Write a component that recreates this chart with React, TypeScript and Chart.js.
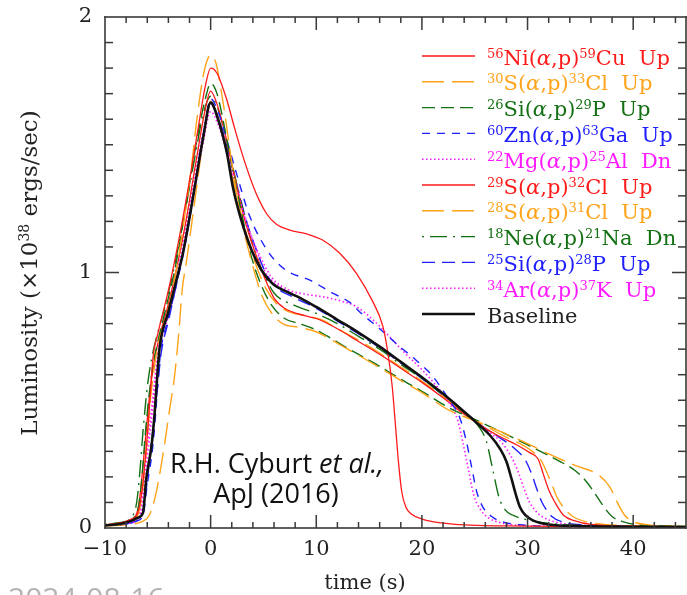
import React, { useEffect, useRef } from "react";
import { Chart, registerables } from "chart.js";

Chart.register(...registerables);

// ---------- axis ranges & tick labels ----------
const X_MIN = -10;
const X_MAX = 45;
const Y_MIN = 0;
const Y_MAX = 2;
const xTickValues = [-10, 0, 10, 20, 30, 40];
const yTickValues = [0, 1, 2];
const xMinorStep = 2;
const yMinorStep = 0.1;

// ---------- series data (time in s, luminosity in 1e38 erg/s) ----------
const ni56Time = [-10, -8.5, -7.5, -6.9, -6.55, -6.08, -5.75, -5.45, -5.0, -4.0, -3.0, -2.1, -1.2, -0.5, 0, 0.6, 1.5, 2.3, 3.2, 4.3, 5.3, 6.2, 7.5, 9, 10.6, 12.2, 13.8, 15.3, 16.3, 16.8, 17.2, 17.5, 17.8, 18.1, 18.5, 19, 20, 21, 24, 28, 35, 45];
const ni56Lum = [0.012, 0.02, 0.035, 0.06, 0.13, 0.32, 0.5, 0.67, 0.76, 0.93, 1.13, 1.336, 1.56, 1.73, 1.8, 1.78, 1.68, 1.56, 1.436, 1.31, 1.23, 1.19, 1.166, 1.152, 1.127, 1.076, 0.997, 0.89, 0.79, 0.68, 0.55, 0.4, 0.25, 0.14, 0.08, 0.055, 0.035, 0.025, 0.012, 0.008, 0.005, 0.004];

const s30Time = [-10, -8, -7.2, -6.8, -6.5, -6.1, -5.7, -5.3, -4.9, -4.0, -3.2, -2.46, -1.8, -1.3, -0.6, 0, 0.5, 1.2, 2.0, 2.8, 3.7, 4.9, 5.8, 6.8, 8.4, 10, 11.5, 13.1, 15.5, 17.9, 20, 22.6, 25, 27.3, 29.5, 32, 34.5, 36.8, 37.8, 38.5, 39.2, 40, 41.5, 43, 45];
const s30Lum = [0.012, 0.018, 0.03, 0.06, 0.13, 0.3, 0.5, 0.64, 0.73, 0.86, 1.02, 1.22, 1.42, 1.6, 1.79, 1.85, 1.82, 1.66, 1.43, 1.23, 1.07, 0.905, 0.84, 0.8, 0.785, 0.768, 0.735, 0.697, 0.64, 0.58, 0.53, 0.46, 0.42, 0.38, 0.34, 0.29, 0.245, 0.205, 0.16, 0.1, 0.05, 0.025, 0.012, 0.008, 0.006];

const si26Time = [-10, -8.5, -7.6, -7.2, -6.8, -6.5, -6.2, -5.8, -5.4, -5.0, -4.3, -3.3, -2.3, -1.3, -0.5, 0, 0.6, 1.4, 2.2, 3.0, 3.8, 4.8, 5.8, 7.0, 8.4, 10, 11.5, 13.1, 15.5, 17.9, 20, 22.6, 25, 27.3, 30, 33, 34.5, 35.5, 36.3, 37.1, 38, 39, 40.5, 45];
const si26Lum = [0.012, 0.02, 0.03, 0.045, 0.09, 0.2, 0.36, 0.53, 0.65, 0.73, 0.85, 1.03, 1.27, 1.52, 1.68, 1.74, 1.7, 1.55, 1.38, 1.22, 1.07, 0.95, 0.87, 0.82, 0.8, 0.775, 0.74, 0.7, 0.645, 0.585, 0.535, 0.47, 0.425, 0.38, 0.325, 0.262, 0.225, 0.185, 0.14, 0.09, 0.045, 0.025, 0.012, 0.006];

const zn60Time = [-10, -8, -7, -6.4, -6.0, -5.5, -5.2, -5.0, -4.7, -4.0, -3.2, -2.5, -1.5, -0.7, 0, 0.7, 1.6, 2.5, 3.7, 5.3, 6.5, 7.5, 9.4, 11.5, 13.1, 14.4, 16, 17.9, 19.5, 21, 22.6, 23.6, 24.2, 24.7, 25.2, 25.8, 26.6, 27.8, 29.5, 33, 45];
const zn60Lum = [0.01, 0.016, 0.028, 0.05, 0.17, 0.31, 0.45, 0.57, 0.7, 0.82, 0.96, 1.09, 1.33, 1.53, 1.68, 1.63, 1.51, 1.38, 1.22, 1.09, 1.03, 1.0, 0.97, 0.92, 0.885, 0.835, 0.78, 0.71, 0.655, 0.595, 0.5, 0.43, 0.34, 0.24, 0.14, 0.08, 0.045, 0.022, 0.012, 0.007, 0.004];

const mg22Time = [-10, -8, -7, -6.6, -6.2, -5.8, -5.4, -5.1, -4.8, -4.0, -3.2, -2.4, -1.5, -0.7, 0, 0.7, 1.6, 2.5, 3.5, 4.6, 5.8, 7.5, 9, 10.6, 12.2, 13.8, 15.5, 16.9, 18.5, 20, 21.5, 22.6, 23.4, 23.9, 24.4, 24.9, 25.5, 26.3, 27.5, 29, 33, 45];
const mg22Lum = [0.012, 0.018, 0.03, 0.06, 0.2, 0.35, 0.5, 0.62, 0.71, 0.83, 0.97, 1.12, 1.33, 1.51, 1.63, 1.58, 1.46, 1.32, 1.18, 1.07, 0.98, 0.93, 0.915, 0.905, 0.89, 0.866, 0.81, 0.75, 0.68, 0.62, 0.55, 0.49, 0.42, 0.33, 0.23, 0.13, 0.075, 0.04, 0.02, 0.011, 0.006, 0.004];

const s29Time = [-10, -8.5, -7.6, -7.2, -6.8, -6.5, -6.1, -5.7, -5.3, -4.9, -4.1, -3.2, -2.3, -1.4, -0.6, 0, 0.6, 1.5, 2.3, 3.2, 4.2, 5.2, 6, 7, 9, 10, 12, 14, 16, 18, 20, 22, 24, 26, 27.5, 29, 30.2, 31, 31.5, 32, 32.6, 33.4, 34.5, 36, 40, 45];
const s29Lum = [0.012, 0.02, 0.03, 0.04, 0.09, 0.2, 0.38, 0.55, 0.66, 0.74, 0.86, 1.02, 1.21, 1.43, 1.62, 1.71, 1.66, 1.52, 1.37, 1.21, 1.08, 0.97, 0.9, 0.86, 0.83, 0.82, 0.78, 0.73, 0.68, 0.625, 0.57, 0.51, 0.445, 0.39, 0.355, 0.325, 0.295, 0.27, 0.21, 0.15, 0.1, 0.05, 0.028, 0.014, 0.007, 0.005];

const s28Time = [-10, -7.5, -6.5, -5.8, -5.2, -4.7, -4.35, -3.9, -3.4, -3.0, -2.7, -2.3, -1.5, -0.7, 0, 0.6, 1.5, 2.3, 3.2, 4.2, 5.2, 6.2, 7.2, 9, 10.5, 12, 14, 16, 18, 20, 22, 24, 26, 28, 29.5, 30.6, 31.2, 31.8, 32.3, 32.8, 33.5, 34.3, 35.5, 38, 42, 45];
const s28Lum = [0.008, 0.015, 0.025, 0.05, 0.13, 0.24, 0.33, 0.46, 0.6, 0.77, 0.93, 1.04, 1.28, 1.52, 1.67, 1.62, 1.48, 1.33, 1.18, 1.04, 0.94, 0.88, 0.85, 0.83, 0.815, 0.78, 0.735, 0.685, 0.63, 0.575, 0.515, 0.45, 0.4, 0.355, 0.325, 0.295, 0.27, 0.22, 0.17, 0.12, 0.075, 0.045, 0.025, 0.012, 0.007, 0.006];

const ne18Time = [-10, -8.5, -7.8, -7.4, -7.0, -6.7, -6.4, -6.0, -5.6, -5.1, -4.3, -3.4, -2.5, -1.5, -0.7, 0, 0.7, 1.6, 2.5, 3.4, 4.3, 5.2, 6, 8, 10, 12, 14, 16, 18, 20, 22, 24, 25.5, 26.1, 26.7, 27.3, 27.9, 28.6, 30.2, 32, 35, 45];
const ne18Lum = [0.014, 0.022, 0.03, 0.045, 0.1, 0.22, 0.38, 0.55, 0.66, 0.75, 0.87, 1.03, 1.22, 1.45, 1.62, 1.69, 1.64, 1.5, 1.34, 1.19, 1.07, 0.98, 0.92, 0.87, 0.84, 0.8, 0.75, 0.7, 0.64, 0.585, 0.52, 0.45, 0.39, 0.34, 0.23, 0.12, 0.07, 0.05, 0.03, 0.018, 0.01, 0.005];

const si25Time = [-10, -8, -7, -6.5, -6.1, -5.7, -5.3, -5.0, -4.7, -4.0, -3.2, -2.4, -1.5, -0.7, 0, 0.7, 1.6, 2.5, 3.4, 4.4, 5.2, 6, 8, 10, 12, 14, 16, 18, 20, 22, 24, 26, 27.5, 28.8, 29.8, 30.4, 30.9, 31.4, 32.3, 33.5, 35.5, 40, 45];
const si25Lum = [0.01, 0.016, 0.028, 0.05, 0.15, 0.3, 0.44, 0.56, 0.68, 0.81, 0.96, 1.12, 1.34, 1.54, 1.66, 1.61, 1.48, 1.34, 1.2, 1.08, 1.0, 0.95, 0.9, 0.86, 0.81, 0.76, 0.705, 0.645, 0.585, 0.52, 0.455, 0.39, 0.35, 0.31, 0.265, 0.21, 0.15, 0.098, 0.045, 0.022, 0.012, 0.006, 0.004];

const ar34Time = [-10, -8, -7, -6.7, -6.3, -5.9, -5.5, -5.2, -4.9, -4.1, -3.3, -2.5, -1.6, -0.7, 0, 0.7, 1.6, 2.5, 3.4, 4.4, 5.2, 6, 8, 10, 12, 14, 16, 18, 20, 22, 24, 26, 27.3, 28, 28.7, 29.2, 29.7, 30.2, 30.8, 31.4, 32.5, 34, 37, 45];
const ar34Lum = [0.012, 0.018, 0.03, 0.06, 0.2, 0.36, 0.5, 0.62, 0.71, 0.84, 0.98, 1.14, 1.35, 1.55, 1.66, 1.61, 1.48, 1.34, 1.2, 1.08, 1.0, 0.96, 0.91, 0.865, 0.815, 0.765, 0.71, 0.65, 0.59, 0.525, 0.455, 0.385, 0.345, 0.31, 0.26, 0.21, 0.15, 0.1, 0.065, 0.044, 0.025, 0.014, 0.008, 0.004];

const baseTime = [-10, -8.5, -7.5, -6.9, -6.4, -6.1, -5.6, -5.3, -5.08, -4.82, -4.04, -3.24, -2.6, -1.5, -0.7, 0, 0.7, 1.55, 2.1, 2.9, 3.85, 4.8, 5.9, 7.2, 8.5, 10, 12, 14, 16, 18, 20, 22, 24, 25.5, 26.5, 27.4, 28, 28.5, 28.9, 29.3, 29.8, 30.5, 32, 35, 40, 45];
const baseLum = [0.01, 0.017, 0.028, 0.04, 0.06, 0.19, 0.32, 0.45, 0.58, 0.71, 0.84, 0.97, 1.08, 1.336, 1.53, 1.665, 1.6, 1.466, 1.336, 1.205, 1.09, 1.01, 0.955, 0.925, 0.9, 0.865, 0.815, 0.765, 0.71, 0.65, 0.59, 0.525, 0.455, 0.4, 0.36, 0.31, 0.26, 0.19, 0.13, 0.08, 0.05, 0.03, 0.014, 0.008, 0.005, 0.004];

// ---------- legend labels (^{..} = superscript) ----------
const legendLabels = [
  "^{56}Ni(α,p)^{59}Cu  Up",
  "^{30}S(α,p)^{33}Cl  Up",
  "^{26}Si(α,p)^{29}P  Up",
  "^{60}Zn(α,p)^{63}Ga  Up",
  "^{22}Mg(α,p)^{25}Al  Dn",
  "^{29}S(α,p)^{32}Cl  Up",
  "^{28}S(α,p)^{31}Cl  Up",
  "^{18}Ne(α,p)^{21}Na  Dn",
  "^{25}Si(α,p)^{28}P  Up",
  "^{34}Ar(α,p)^{37}K  Up",
  "Baseline",
];
const seriesTimes = [ni56Time, s30Time, si26Time, zn60Time, mg22Time, s29Time, s28Time, ne18Time, si25Time, ar34Time, baseTime];
const seriesLums = [ni56Lum, s30Lum, si26Lum, zn60Lum, mg22Lum, s29Lum, s28Lum, ne18Lum, si25Lum, ar34Lum, baseLum];

// ---------- styles ----------
const RED = "#ff1a1a";
const ORANGE = "#ffa31a";
const GREEN = "#137013";
const BLUE = "#2020ff";
const MAGENTA = "#ff1aff";
const BLACK = "#111111";
const seriesColors = [RED, ORANGE, GREEN, BLUE, MAGENTA, RED, ORANGE, GREEN, BLUE, MAGENTA, BLACK];
const seriesDashes: number[][] = [[], [22, 8], [13, 6], [8, 7], [1.5, 2.5], [], [22, 8], [2, 6, 17, 6], [13, 7], [1.5, 2.5], []];
const seriesWidths = [1.3, 1.4, 1.4, 1.4, 1.6, 1.3, 1.4, 1.4, 1.4, 1.6, 2.6];
const textColors = ["#ff1a1a", "#ffa31a", "#137013", "#2020ff", "#ff1aff", "#ff1a1a", "#ffa31a", "#137013", "#2020ff", "#ff1aff", "#222222"];

const SERIF = '"DejaVu Serif", serif';
const SANS = '"Open Sans", "Noto Sans", sans-serif';
const AXIS_COLOR = "#3a3a3a";

function drawRich(ctx: CanvasRenderingContext2D, text: string, x: number, y: number, size: number, color: string, measureOnly = false): number {
  const tokens = text.split(/(\^\{[^}]*\}|α)/).filter((t) => t.length > 0);
  let cx = x;
  ctx.fillStyle = color;
  ctx.textBaseline = "alphabetic";
  ctx.textAlign = "left";
  for (const tk of tokens) {
    if (tk.startsWith("^{")) {
      const s = tk.slice(2, -1);
      ctx.font = `${Math.round(size * 0.62)}px ${SERIF}`;
      if (!measureOnly) ctx.fillText(s, cx, y - size * 0.33);
      cx += ctx.measureText(s).width;
    } else if (tk === "α") {
      ctx.font = `italic ${size}px ${SERIF}`;
      if (!measureOnly) ctx.fillText(tk, cx, y);
      cx += ctx.measureText(tk).width;
    } else {
      ctx.font = `${size}px ${SERIF}`;
      if (!measureOnly) ctx.fillText(tk, cx, y);
      cx += ctx.measureText(tk).width;
    }
  }
  return cx - x;
}

function seg(ctx: CanvasRenderingContext2D, x1: number, y1: number, x2: number, y2: number) {
  ctx.beginPath();
  ctx.moveTo(x1, y1);
  ctx.lineTo(x2, y2);
  ctx.stroke();
}

// inward tick marks on all four sides plus the frame, placed through the chart's own scales
const frameTicksPlugin = {
  id: "frameTicks",
  afterDatasetsDraw(chart: any) {
    const ctx: CanvasRenderingContext2D = chart.ctx;
    const a = chart.chartArea;
    const xs = chart.scales.x;
    const ys = chart.scales.y;
    ctx.save();
    ctx.fillStyle = AXIS_COLOR;
    const nX = Math.round((X_MAX - X_MIN) / xMinorStep);
    for (let i = 1; i < nX; i++) {
      const v = X_MIN + i * xMinorStep;
      const px = xs.getPixelForValue(v);
      const major = Math.abs(v % 10) < 1e-9;
      const len = major ? 13 : 6;
      ctx.fillRect(px - 0.75, a.bottom - len, 1.5, len);
      ctx.fillRect(px - 0.75, a.top, 1.5, len);
    }
    const nY = Math.round((Y_MAX - Y_MIN) / yMinorStep);
    for (let i = 1; i < nY; i++) {
      const py = ys.getPixelForValue(Y_MIN + i * yMinorStep);
      const major = i % 10 === 0;
      const len = major ? 14 : 8;
      ctx.fillRect(a.left, py - 0.75, len, 1.5);
      ctx.fillRect(a.right - len, py - 0.75, len, 1.5);
    }
    ctx.fillRect(a.left - 0.8, a.top - 0.8, a.right - a.left + 1.6, 1.6);
    ctx.fillRect(a.left - 0.8, a.bottom - 0.8, a.right - a.left + 1.6, 1.6);
    ctx.fillRect(a.left - 0.8, a.top - 0.8, 1.6, a.bottom - a.top + 1.6);
    ctx.fillRect(a.right - 0.8, a.top - 0.8, 1.6, a.bottom - a.top + 1.6);
    ctx.restore();
  },
};

const decorPlugin = {
  id: "decor",
  afterDraw(chart: any) {
    const ctx: CanvasRenderingContext2D = chart.ctx;
    ctx.save();
    ctx.setLineDash([]);

    // axis titles
    ctx.fillStyle = "#222";
    ctx.font = `21px ${SERIF}`;
    ctx.textAlign = "center";
    ctx.textBaseline = "alphabetic";
    ctx.fillText("time (s)", 365, 589);

    ctx.save();
    ctx.translate(30, 273);
    ctx.rotate(-Math.PI / 2);
    const yTitle = "Luminosity (×10^{38} ergs/sec)";
    const w = drawRich(ctx, yTitle, 0, 0, 23, "#222", true);
    drawRich(ctx, yTitle, -w / 2, 7, 23, "#222");
    ctx.restore();

    // legend
    const legX1 = 422;
    const legX2 = 475;
    const legTextX = 487;
    const legY0 = 56;
    const legStep = 25.8;
    for (let i = 0; i < legendLabels.length; i++) {
      const y = legY0 + i * legStep;
      ctx.strokeStyle = seriesColors[i];
      ctx.lineWidth = seriesWidths[i];
      ctx.setLineDash(seriesDashes[i]);
      ctx.lineDashOffset = 0;
      seg(ctx, legX1, y, legX2, y);
      ctx.setLineDash([]);
      drawRich(ctx, legendLabels[i], legTextX, y + 8.5, 21, textColors[i]);
    }

    // annotation
    ctx.fillStyle = "#111";
    ctx.textAlign = "left";
    ctx.textBaseline = "alphabetic";
    const a1 = "R.H. Cyburt ";
    const a2 = "et al.,";
    ctx.font = `27px ${SANS}`;
    const w1 = ctx.measureText(a1).width;
    ctx.font = `italic 27px ${SANS}`;
    const w2 = ctx.measureText(a2).width;
    const start = 277 - (w1 + w2) / 2;
    ctx.font = `27px ${SANS}`;
    ctx.fillText(a1, start, 473);
    ctx.font = `italic 27px ${SANS}`;
    ctx.fillText(a2, start + w1, 473);
    ctx.font = `27px ${SANS}`;
    ctx.textAlign = "center";
    ctx.fillText("ApJ (2016)", 276, 503);

    // faint date stamp at bottom-left (cut off)
    ctx.fillStyle = "#b4b4b4";
    ctx.textAlign = "left";
    ctx.font = `30px ${SANS}`;
    ctx.fillText("2024-08-16", 8, 609);
    ctx.restore();
  },
};

export default function App() {
  const ref = useRef<HTMLCanvasElement>(null);
  useEffect(() => {
    document.body.style.margin = "0";
    const canvas = ref.current;
    if (!canvas) return;
    const datasets = legendLabels.map((label, i) => ({
      label,
      data: seriesTimes[i].map((t, j) => ({ x: t, y: seriesLums[i][j] })),
      borderColor: seriesColors[i],
      borderWidth: seriesWidths[i],
      borderDash: seriesDashes[i],
      pointRadius: 0,
      fill: false,
      cubicInterpolationMode: "monotone" as const,
      order: i === legendLabels.length - 1 ? 0 : 1,
    }));
    const tickFont = { family: '"DejaVu Serif", serif', size: 21 };
    const chart = new Chart(canvas, {
      type: "line",
      data: { datasets },
      options: {
        animation: false,
        responsive: false,
        layout: { padding: { top: 17, right: 1, left: 0, bottom: 0 } },
        plugins: { legend: { display: false }, tooltip: { enabled: false } },
        elements: { line: { borderCapStyle: "butt", borderJoinStyle: "round" } },
        scales: {
          x: {
            type: "linear",
            min: X_MIN,
            max: X_MAX,
            afterBuildTicks: (axis: any) => {
              axis.ticks = xTickValues.map((v) => ({ value: v }));
            },
            afterFit: (axis: any) => {
              axis.height = 67;
              axis.paddingLeft = 0;
              axis.paddingRight = 0;
            },
            grid: { display: false, drawTicks: false },
            border: { display: false },
            ticks: {
              font: tickFont,
              color: "#222",
              padding: 9,
              maxRotation: 0,
              autoSkip: false,
              callback: (v: any) => (Number(v) < 0 ? "\u2212" + Math.abs(Number(v)) : String(v)),
            },
          },
          y: {
            type: "linear",
            min: Y_MIN,
            max: Y_MAX,
            afterBuildTicks: (axis: any) => {
              axis.ticks = yTickValues.map((v) => ({ value: v }));
            },
            afterFit: (axis: any) => {
              axis.width = 105;
              axis.paddingTop = 0;
              axis.paddingBottom = 0;
            },
            grid: { display: false, drawTicks: false },
            border: { display: false },
            ticks: {
              font: tickFont,
              color: "#222",
              padding: 13,
              autoSkip: false,
              callback: (v: any) => String(v),
            },
          },
        },
      },
      plugins: [frameTicksPlugin, decorPlugin],
    });
    return () => chart.destroy();
  }, []);
  return (
    <div style={{ position: "fixed", left: 0, top: 0, width: 687, height: 595, background: "#fff" }}>
      <canvas ref={ref} width={687} height={595} style={{ display: "block", width: 687, height: 595 }} />
    </div>
  );
}
